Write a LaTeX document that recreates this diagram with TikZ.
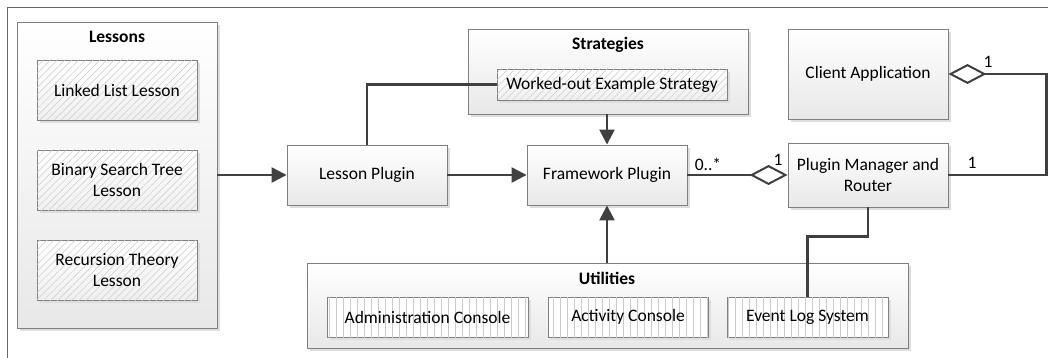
\documentclass[tikz,border=0pt]{standalone}
\usepackage{fontspec}
\setmainfont{Carlito}
\usetikzlibrary{arrows.meta,shadows,patterns.meta,calc}
\begin{document}
\begin{tikzpicture}[x=1pt,y=-1pt,
  every node/.style={font=\fontsize{17.5}{21}\selectfont, inner sep=0pt},
  shad/.style={drop shadow={shadow xshift=3pt,shadow yshift=-3pt,fill=black!13,opacity=1}},
  container/.style={draw=black!50, line width=0.9pt, top color=white, bottom color=black!9, shad},
  plainbox/.style={draw=black!50, line width=0.9pt, top color=white, bottom color=black!9, shad, align=center},
  hatchbox/.style={draw=black!50, line width=0.9pt, top color=white, bottom color=black!6, shad, align=center,
    postaction={pattern={Lines[angle=45,distance=5pt,line width=0.5pt]}, pattern color=black!20}},
  vlinebox/.style={draw=black!50, line width=0.9pt, fill=white, shad, align=center,
    postaction={pattern={Lines[angle=90,distance=7pt,line width=0.5pt]}, pattern color=black!20}},
  title/.style={font=\fontsize{17.5}{21}\selectfont\bfseries},
  conn/.style={draw=black!75, line width=2.4pt},
  arr/.style={conn, -{Triangle[length=15pt,width=15pt]}},
  diaend/.style={conn, -{Diamond[open,length=38pt,width=20pt,line width=2pt]}},
  diastart/.style={conn, {Diamond[open,length=38pt,width=20pt,line width=2pt]}-},
  lbl/.style={font=\fontsize{17.5}{21}\selectfont}
]
\useasboundingbox (0,0) rectangle (1048,358);
\fill[white] (0,0) rectangle (1048,358);
% outer frame
\draw[black!60, line width=1pt] (7,360) -- (7,8) -- (1050,8);

% Lessons
\node[container, minimum width=200pt, minimum height=306pt] (lessons) at (117,175) {};
\node[title] (lessonsT) at (117,37) {Lessons};
\node[hatchbox, minimum width=160pt, minimum height=60pt] (ll) at (117,90) {Linked List Lesson};
\node[hatchbox, minimum width=160pt, minimum height=60pt] (bst) at (117,180) {Binary Search Tree\\Lesson};
\node[hatchbox, minimum width=160pt, minimum height=60pt] (rec) at (117,270) {Recursion Theory\\Lesson};

% Strategies
\node[container, minimum width=280pt, minimum height=85pt] (strat) at (608,71.5) {};
\node[title] (stratT) at (608,45) {Strategies};
\node[hatchbox, minimum width=230pt, minimum height=31pt] (wo) at (612,84.5) {Worked-out Example Strategy};

% Main boxes
\node[plainbox, minimum width=160pt, minimum height=60pt] (lp) at (367,175) {Lesson Plugin};
\node[plainbox, minimum width=160pt, minimum height=60pt] (fw) at (607,175) {Framework Plugin};
\node[plainbox, minimum width=160pt, minimum height=90pt] (client) at (868,74) {Client Application};
\node[plainbox, minimum width=160pt, minimum height=64pt] (pm) at (868,175) {Plugin Manager and\\Router};

% Utilities
\node[container, minimum width=601pt, minimum height=85pt] (util) at (607.5,305.5) {};
\node[title] (utilT) at (607,278) {Utilities};
\node[vlinebox, minimum width=201pt, minimum height=40pt] (admin) at (427.5,317) {Administration Console};
\node[vlinebox, minimum width=160pt, minimum height=40pt] (act) at (628,317) {Activity Console};
\node[vlinebox, minimum width=161pt, minimum height=40pt] (ev) at (807.5,317) {Event Log System};

% connectors
\draw[arr] (lessons.east) -- (lp.west);
\draw[conn] (lp.north) |- (wo.west);
\draw[arr] (strat.south -| fw.north) -- (fw.north);
\draw[arr] (lp.east) -- (fw.west);
\draw[arr] (util.north -| fw.south) -- (fw.south);
\draw[diaend] (fw.east) -- (pm.west);
\node[lbl] (l0) at (708,164) {0..*};
\node[lbl] (l1) at (778,160) {1};
\coordinate (rc) at (1046.5,74);
\draw[diastart] (client.east) -- (rc) |- (pm.east);
\node[lbl] (l2) at (988,62) {1};
\node[lbl] (l3) at (972,163) {1};
\draw[conn] (ev.north) -- ++(0,-60) -| (pm.south);
\end{tikzpicture}
\end{document}
